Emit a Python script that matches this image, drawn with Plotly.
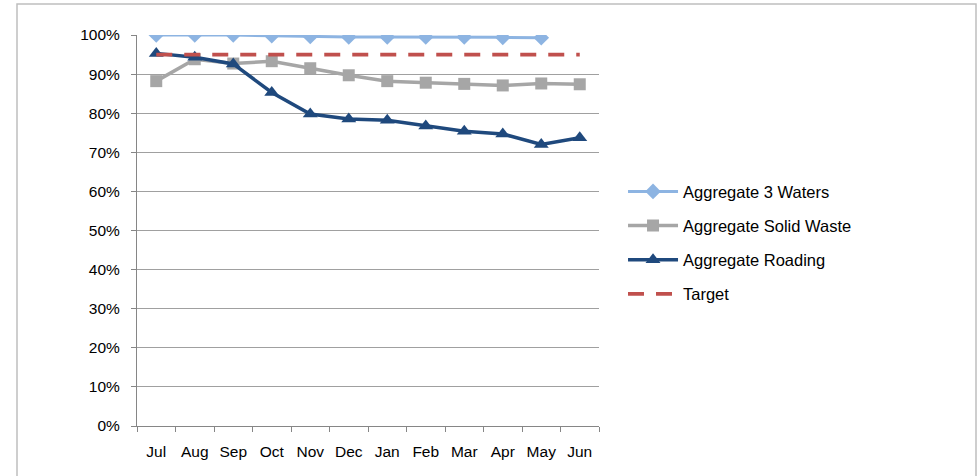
import plotly.graph_objects as go

months = ["Jul", "Aug", "Sep", "Oct", "Nov", "Dec", "Jan", "Feb", "Mar", "Apr", "May", "Jun"]
waters = [1.000, 1.000, 1.000, 0.998, 0.996, 0.995, 0.995, 0.995, 0.995, 0.994, 0.993, None]
solid_waste = [0.882, 0.938, 0.927, 0.933, 0.915, 0.897, 0.882, 0.878, 0.875, 0.871, 0.876, 0.874]
roading = [0.953, 0.943, 0.926, 0.853, 0.798, 0.785, 0.782, 0.767, 0.754, 0.747, 0.720, 0.737]
target = [0.95] * 12

FONT = "Liberation Sans"

fig = go.Figure()
fig.add_trace(go.Scatter(x=months, y=waters, name="Aggregate 3 Waters", mode="lines+markers",
                         line=dict(color="#8DB4E2", width=3),
                         marker=dict(symbol="diamond", size=12, color="#8DB4E2"),
                         legendgroup="a"))
fig.add_trace(go.Scatter(x=months, y=solid_waste, name="Aggregate Solid Waste", mode="lines+markers",
                         line=dict(color="#A6A6A6", width=3.5),
                         marker=dict(symbol="square", size=12, color="#A6A6A6"),
                         legendgroup="b"))
fig.add_trace(go.Scatter(x=months, y=roading, name="Aggregate Roading", mode="lines+markers",
                         line=dict(color="#1F497D", width=3.5),
                         marker=dict(symbol="triangle-up", size=13, color="#1F497D"),
                         legendgroup="c"))
fig.add_trace(go.Scatter(x=months, y=target, name="Target", mode="lines",
                         line=dict(color="#C0504D", width=3.8, dash="16px,12px"),
                         legendgroup="d"))

fig.add_shape(type="rect", xref="paper", yref="paper",
              x0=(17 - 137) / 462, x1=(976 - 137) / 462,
              y0=(426 - 485) / 391, y1=(426 - 4) / 391,
              line=dict(color="#BFBFBF", width=1.5), layer="below")

fig.update_layout(
    width=977, height=476,
    margin=dict(l=137, r=378, t=35, b=50, autoexpand=False),
    paper_bgcolor="white", plot_bgcolor="white",
    font=dict(family=FONT, size=15, color="#000000"),
    showlegend=True,
    legend=dict(x=1.052, xanchor="left", y=0.644, yanchor="top",
                font=dict(family=FONT, size=16.5, color="#000000"),
                itemwidth=50,
                tracegroupgap=9.7, bgcolor="rgba(0,0,0,0)"),
    xaxis=dict(type="category", range=[-0.5, 11.5], showgrid=False,
               showline=True, linecolor="#868686", linewidth=1,
               ticks="outside", tickson="boundaries", ticklen=5, tickcolor="#868686",
               ticklabelstandoff=11, tickangle=0, automargin=False,
               tickfont=dict(family=FONT, size=15.5)),
    yaxis=dict(range=[0, 1], dtick=0.1, tickformat=".0%", showgrid=True,
               gridcolor="#A0A0A0", gridwidth=1, zeroline=False,
               showline=True, linecolor="#868686", linewidth=1,
               ticks="outside", ticklen=5, tickcolor="#868686",
               ticklabelstandoff=8, automargin=False,
               tickfont=dict(family=FONT, size=15.5)),
)

fig.write_html("out.html", config={"displayModeBar": False},
               post_script="document.body.style.margin='0';document.body.style.overflow='hidden';")
